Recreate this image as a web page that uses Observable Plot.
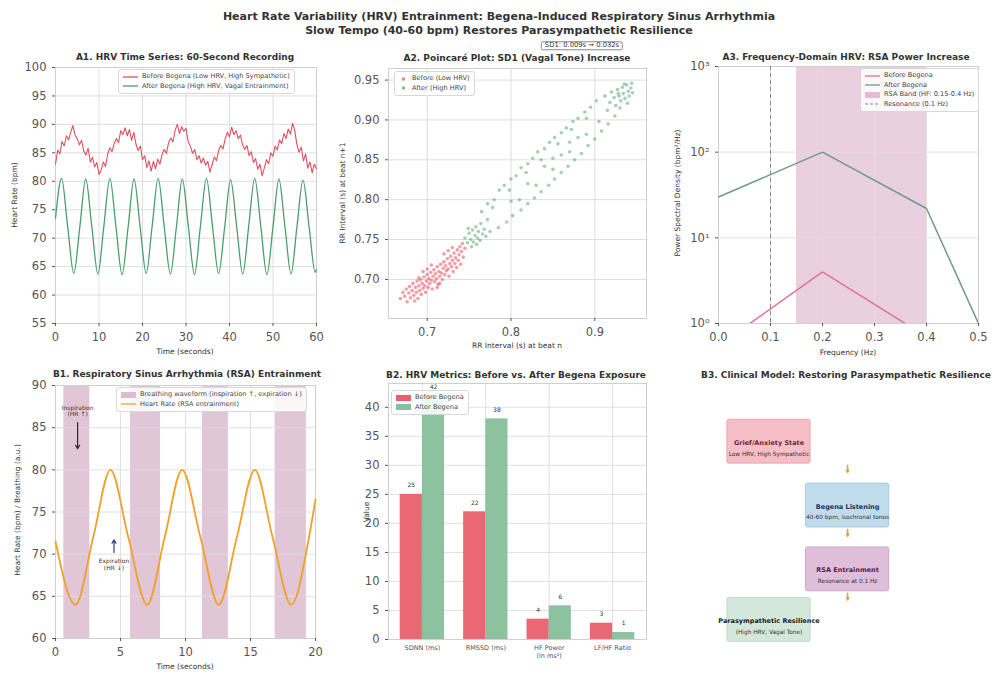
<!DOCTYPE html>
<html><head><meta charset="utf-8">
<script src="https://cdn.jsdelivr.net/npm/d3@7"></script>
<script src="https://cdn.jsdelivr.net/npm/@observablehq/plot@0.6"></script>
<style>
body{margin:0;background:#fff;font-family:"DejaVu Sans",sans-serif;}
#root{position:relative;width:998px;height:678px;overflow:hidden;background:#fff;}
.lg{position:absolute;background:rgba(255,255,255,0.85);border:1px solid #d8d8d8;border-radius:3px;padding:2px 4px;font-size:6.6px;color:#444;line-height:9.5px;white-space:nowrap;}
.lg div{display:flex;align-items:center;}
.lg svg{margin-right:4px;}
</style></head>
<body><div id="root"></div>
<script>
// ---------------- DATA ----------------
// A1: HRV time series (60 s)
const a1Time = [0,0.5,1,1.5,2,2.5,3,3.5,4,4.5,5,5.5,6,6.5,7,7.5,8,8.5,9,9.5,10,10.5,11,11.5,12,12.5,13,13.5,14,14.5,15,15.5,16,16.5,17,17.5,18,18.5,19,19.5,20,20.5,21,21.5,22,22.5,23,23.5,24,24.5,25,25.5,26,26.5,27,27.5,28,28.5,29,29.5,30,30.5,31,31.5,32,32.5,33,33.5,34,34.5,35,35.5,36,36.5,37,37.5,38,38.5,39,39.5,40,40.5,41,41.5,42,42.5,43,43.5,44,44.5,45,45.5,46,46.5,47,47.5,48,48.5,49,49.5,50,50.5,51,51.5,52,52.5,53,53.5,54,54.5,55,55.5,56,56.5,57,57.5,58,58.5,59,59.5,60];
const a1Before = [83.0,85.5,84.8,87.0,86.2,88.0,87.3,88.6,89.8,88.1,87.5,86.4,87.2,85.3,84.6,85.8,83.4,84.2,82.5,83.3,81.2,82.0,83.4,82.6,84.8,85.9,85.2,86.7,87.5,86.8,88.9,88.2,89.4,88.0,89.1,87.2,88.6,86.5,85.4,86.2,83.8,84.5,82.4,83.6,81.8,83.5,82.2,83.9,83.0,84.7,85.6,84.9,86.8,87.6,86.9,89.0,90.0,88.4,89.6,88.8,89.3,87.0,86.2,84.9,85.6,83.8,84.5,83.2,84.1,82.8,83.5,81.6,82.9,84.3,83.6,85.4,86.3,85.7,87.4,88.6,87.8,89.5,88.2,88.9,87.5,88.1,86.4,85.6,86.3,84.5,85.2,83.3,84.0,82.1,83.0,81.0,82.3,83.8,83.1,85.0,84.4,86.2,85.5,87.3,86.6,88.4,87.5,89.2,88.3,90.2,88.9,86.4,85.1,86.0,83.6,84.8,82.3,83.4,81.5,83.0,82.2];
const a1AfterTime = [0,1.4,2.8,4.2,5.6,6.95,8.35,9.75,11.1,12.5,13.9,15.3,16.7,18.05,19.45,20.85,22.2,23.6,25,26.4,27.8,29.15,30.55,31.95,33.3,34.7,36.1,37.5,38.9,40.25,41.65,43.05,44.4,45.8,47.2,48.6,50,51.35,52.75,54.15,55.5,56.9,58.3,59.7,60];
const a1After = [73.5,80.5,72,63.8,72,80.4,72,63.7,72,80.5,72,63.6,72,80.4,72,63.8,72,80.5,72,63.7,72,80.4,72,63.6,72,80.5,72,63.8,72,80.3,72,63.7,72,80.5,72,63.6,72,80.4,72,63.7,72,80.2,72,64.0,64.5];
const a1XTicks = [0,10,20,30,40,50,60];
const a1YTicks = [55,60,65,70,75,80,85,90,95,100];

// A2: Poincaré plot
const a2BeforeX = [0.668,0.671,0.673,0.675,0.676,0.678,0.679,0.680,0.682,0.683,0.684,0.686,0.687,0.688,0.689,0.690,0.691,0.692,0.693,0.694,0.695,0.696,0.697,0.698,0.699,0.700,0.701,0.702,0.703,0.704,0.705,0.706,0.707,0.708,0.709,0.710,0.711,0.712,0.713,0.714,0.715,0.716,0.717,0.718,0.719,0.720,0.721,0.722,0.723,0.724,0.725,0.726,0.727,0.728,0.729,0.730,0.731,0.732,0.733,0.734,0.735,0.736,0.737,0.738,0.739,0.740,0.741,0.742,0.743,0.745,0.712,0.700,0.690,0.720,0.685,0.730,0.695,0.705,0.725,0.715];
const a2BeforeY = [0.676,0.684,0.679,0.688,0.672,0.683,0.691,0.677,0.686,0.695,0.680,0.690,0.684,0.698,0.676,0.692,0.686,0.700,0.681,0.695,0.689,0.703,0.692,0.684,0.698,0.706,0.690,0.701,0.695,0.709,0.699,0.688,0.704,0.712,0.697,0.707,0.701,0.716,0.694,0.710,0.704,0.719,0.708,0.700,0.714,0.722,0.706,0.717,0.711,0.726,0.713,0.704,0.720,0.729,0.716,0.724,0.710,0.733,0.720,0.727,0.715,0.737,0.724,0.731,0.741,0.719,0.735,0.745,0.728,0.739,0.690,0.713,0.702,0.732,0.673,0.740,0.710,0.718,0.736,0.695];
const a2AfterX = [0.745,0.748,0.750,0.752,0.754,0.755,0.757,0.758,0.760,0.761,0.763,0.764,0.766,0.768,0.770,0.749,0.753,0.759,0.772,0.775,
 0.765,0.772,0.780,0.786,0.792,0.800,0.806,0.812,0.820,0.826,0.832,0.840,0.846,0.852,0.860,0.866,0.874,0.880,0.888,0.895,0.902,0.778,0.798,0.818,0.836,0.856,0.872,0.890,
 0.785,0.795,0.802,0.812,0.820,0.828,0.836,0.845,0.852,0.860,0.868,0.876,0.884,0.892,0.900,0.908,0.916,0.924,0.810,0.830,0.850,0.870,0.890,0.905,
 0.820,0.840,0.860,0.880,0.800,0.870,0.850,
 0.912,0.918,0.920,0.923,0.925,0.927,0.929,0.931,0.933,0.934,0.936,0.938,0.940,0.941,0.943,0.945,0.930,0.915,0.935,0.928,0.939,0.944];
const a2AfterY = [0.752,0.746,0.758,0.750,0.762,0.747,0.755,0.766,0.752,0.760,0.749,0.770,0.757,0.763,0.754,0.764,0.741,0.744,0.775,0.760,
 0.785,0.795,0.800,0.812,0.818,0.826,0.830,0.840,0.845,0.852,0.860,0.864,0.872,0.878,0.884,0.890,0.898,0.902,0.910,0.916,0.924,0.790,0.812,0.834,0.850,0.870,0.888,0.902,
 0.765,0.772,0.780,0.787,0.795,0.802,0.810,0.818,0.826,0.834,0.842,0.850,0.858,0.868,0.876,0.886,0.895,0.905,0.800,0.818,0.838,0.860,0.882,0.898,
 0.820,0.842,0.856,0.878,0.798,0.872,0.852,
 0.930,0.922,0.935,0.928,0.918,0.938,0.930,0.924,0.941,0.933,0.927,0.944,0.936,0.930,0.940,0.934,0.915,0.912,0.945,0.933,0.921,0.946];
const a2XTicks = [0.7,0.8,0.9];
const a2YTicks = [0.70,0.75,0.80,0.85,0.90,0.95];

// A3: power spectral density
const a3Freq = [0.0,0.2,0.4,0.5];
const a3Before = [0.55,4,0.7,0.04];
const a3After = [30,100,22,1];
const a3Band = [0.15,0.4];
const a3Resonance = [0.1];
const a3XTicks = [0,0.1,0.2,0.3,0.4,0.5];
const a3YTicks = [1,10,100,1000];

// B1: RSA entrainment
const b1Time = [0,1.54,2.9,4.23,5.6,7.05,8.4,9.74,11.15,12.56,13.95,15.33,16.7,18.13,19.5,20];
const b1HR = [71.5,64,72,80,72,64,72,80,72,64,72,80,72,64,72,76.5];
const b1BreathStart = [0.64,5.77,11.3,16.9];
const b1BreathEnd = [2.64,8.08,13.3,19.3];
const b1NoteText = ["Inspiration\n(HR ↑)","Expiration\n(HR ↓)"];
const b1NoteX = [1.7,4.5];
const b1NoteY = [87.0,68.8];
const b1ArrowFrom = [85.6,70.2];
const b1ArrowTo = [82.5,71.7];
const b1ArrowColor = ["#3b2233","#1f3f8f"];
const b1XTicks = [0,5,10,15,20];
const b1YTicks = [60,65,70,75,80,85,90];

// B2: HRV metrics
const b2Metrics = ["SDNN (ms)","RMSSD (ms)","HF Power\n(ln ms²)","LF/HF Ratio"];
const b2Before = [25,22,3.5,2.8];
const b2After = [42,38,5.8,1.2];
const b2YTicks = [0,5,10,15,20,25,30,35,40];

// B3: clinical model
const b3Titles = ["Grief/Anxiety State","Begena Listening","RSA Entrainment","Parasympathetic Resilience"];
const b3Subtitles = ["Low HRV, High Sympathetic","40-60 bpm, isochronal tones","Resonance at 0.1 Hz","(High HRV, Vagal Tone)"];
const b3X = [2.5,5.5,5.5,2.5];
const b3Y = [8,5.6,3.2,1.3];
const b3Fill = ["#f4b3bd","#b5d6e8","#d9b3d3","#cbe4d3"];
const b3Stroke = ["#e89aa6","#9cc4da","#c89ac0","#b6d6c0"];
const b3Ink = ["#7a1f2e","#17365a","#58204c","#222222"];

// ---------------- RENDER ----------------
const root = document.getElementById("root");
const FONT = "'DejaVu Sans', sans-serif";
const RED = "#e0505c", GREEN = "#4a9e6e", GRID = "#dedede", FRAME = "#cfcfcf";
const base = {fontFamily: FONT, fontSize: "11.5px", color: "#555", background: "transparent", overflow: "visible"};

function place(el, left, top) {
  el.style.position = "absolute"; el.style.left = left + "px"; el.style.top = top + "px";
  root.appendChild(el);
}
function txt(s, x, y, o = {}) {
  const d = document.createElement("div");
  d.textContent = s;
  d.style.cssText = `position:absolute;left:${x}px;top:${y}px;transform:translate(-50%,-50%)${o.rot ? " rotate(-90deg)" : ""};` +
    `font-size:${o.size || 7.5}px;font-weight:${o.bold ? "bold" : "normal"};color:${o.color || "#333"};white-space:pre;text-align:center;line-height:1.2;` +
    (o.box ? "background:#fff;border:1px solid #888;border-radius:2px;padding:0 3px;line-height:1.1;" : "");
  root.appendChild(d);
}
function swatch(type, color) {
  if (type === "line") return `<svg width="15" height="6"><line x1="0" x2="15" y1="3" y2="3" stroke="${color}" stroke-width="1.3"/></svg>`;
  if (type === "dash") return `<svg width="15" height="6"><line x1="0" x2="15" y1="3" y2="3" stroke="${color}" stroke-width="1" stroke-dasharray="3,2"/></svg>`;
  if (type === "dot") return `<svg width="9" height="6"><circle cx="4.5" cy="3" r="1.8" fill="${color}" fill-opacity="0.7"/></svg>`;
  return `<svg width="15" height="6"><rect x="0" y="0" width="15" height="6" fill="${color}"/></svg>`;
}
function legend(x, y, items) {
  const d = document.createElement("div");
  d.className = "lg";
  d.style.left = x + "px"; d.style.top = y + "px";
  d.innerHTML = items.map(([t, type, c]) => `<div>${swatch(type, c)}<span>${t}</span></div>`).join("");
  root.appendChild(d);
}

// Main title
txt("Heart Rate Variability (HRV) Entrainment: Begena-Induced Respiratory Sinus Arrhythmia", 499, 17, {size: 11, bold: true});
txt("Slow Tempo (40-60 bpm) Restores Parasympathetic Resilience", 499, 31, {size: 11, bold: true});

// ---- A1 ----
place(Plot.plot({
  width: 330, height: 315, marginLeft: 55, marginRight: 14, marginTop: 22, marginBottom: 37,
  style: base,
  x: {domain: [0, 60]}, y: {domain: [55, 100]},
  marks: [
    Plot.gridX({ticks: a1XTicks, stroke: GRID, strokeOpacity: 1}),
    Plot.gridY({ticks: a1YTicks, stroke: GRID, strokeOpacity: 1}),
    Plot.frame({stroke: FRAME}),
    Plot.axisX({ticks: a1XTicks, tickSize: 3, label: null}),
    Plot.axisY({ticks: a1YTicks, tickSize: 3, label: null}),
    Plot.line(a1Before, {x: a1Time, y: a1Before, stroke: RED, strokeWidth: 1.1}),
    Plot.line(a1After, {x: a1AfterTime, y: a1After, curve: "monotone-x", stroke: GREEN, strokeWidth: 1.3})
  ]
}), 0, 45);
txt("A1. HRV Time Series: 60-Second Recording", 185, 57, {size: 9, bold: true});
txt("Time (seconds)", 185, 351);
txt("Heart Rate (bpm)", 14, 195, {rot: true});
legend(118, 69, [["Before Begena (Low HRV, High Sympathetic)", "line", RED], ["After Begena (High HRV, Vagal Entrainment)", "line", GREEN]]);

// ---- A2 ----
place(Plot.plot({
  width: 340, height: 315, marginLeft: 58, marginRight: 24, marginTop: 23, marginBottom: 42,
  style: base,
  x: {domain: [0.6538, 0.9617]}, y: {domain: [0.651, 0.9645]},
  marks: [
    Plot.gridX({ticks: a2XTicks, stroke: GRID, strokeOpacity: 1}),
    Plot.gridY({ticks: a2YTicks, stroke: GRID, strokeOpacity: 1}),
    Plot.frame({stroke: FRAME}),
    Plot.axisX({ticks: a2XTicks, tickFormat: ".1f", tickSize: 3, label: null}),
    Plot.axisY({ticks: a2YTicks, tickFormat: ".2f", tickSize: 3, label: null}),
    Plot.dot(a2BeforeX, {x: a2BeforeX, y: a2BeforeY, r: 1.8, fill: "#e8505b", fillOpacity: 0.55}),
    Plot.dot(a2AfterX, {x: a2AfterX, y: a2AfterY, r: 1.8, fill: "#4fa06f", fillOpacity: 0.5})
  ]
}), 330, 45);
txt("A2. Poincaré Plot: SD1 (Vagal Tone) Increase", 517, 58, {size: 9, bold: true});
txt("SD1: 0.009s → 0.032s", 582, 46, {size: 6.8, box: true});
txt("RR Interval (s) at beat n", 517, 345);
txt("RR Interval (s) at beat n+1", 342, 193, {rot: true});
legend(394, 71, [["Before (Low HRV)", "dot", "#e8505b"], ["After (High HRV)", "dot", "#4fa06f"]]);

// ---- A3 ----
const sup = {1: "10⁰", 10: "10¹", 100: "10²", 1000: "10³"};
place(Plot.plot({
  width: 328, height: 315, marginLeft: 48, marginRight: 20, marginTop: 21, marginBottom: 37,
  style: base,
  x: {domain: [0, 0.5]}, y: {type: "log", domain: [1, 1000]},
  marks: [
    Plot.rect(a3Band.slice(0, 1), {x1: a3Band[0], x2: a3Band[1], fill: "#d9a8c4", fillOpacity: 0.55}),
    Plot.gridX({ticks: a3XTicks, stroke: GRID, strokeOpacity: 0.9}),
    Plot.gridY({ticks: a3YTicks, stroke: GRID, strokeOpacity: 0.9}),
    Plot.frame({stroke: FRAME}),
    Plot.axisX({ticks: a3XTicks, tickFormat: ".1f", tickSize: 3, label: null}),
    Plot.axisY({ticks: a3YTicks, tickFormat: d => sup[d], tickSize: 3, label: null}),
    Plot.ruleX(a3Resonance, {x: d => d, stroke: "#888", strokeWidth: 1, strokeDasharray: "4,3"}),
    Plot.line(a3Freq, {x: a3Freq, y: a3After, stroke: "#6f9a8e", strokeWidth: 1.5, clip: true}),
    Plot.line(a3Freq, {x: a3Freq, y: a3Before, stroke: "#e07296", strokeWidth: 1.5, clip: true})
  ]
}), 670, 45);
txt("A3. Frequency-Domain HRV: RSA Power Increase", 846, 57, {size: 9, bold: true});
txt("Frequency (Hz)", 848, 352);
txt("Power Spectral Density (bpm²/Hz)", 677, 193, {rot: true});
legend(860, 68, [["Before Begena", "line", "#e07296"], ["After Begena", "line", "#6f9a8e"], ["RSA Band (HF: 0.15-0.4 Hz)", "rect", "#e2bcd2"], ["Resonance (0.1 Hz)", "dash", "#888"]]);

// ---- B1 ----
place(Plot.plot({
  width: 330, height: 318, marginLeft: 55, marginRight: 15, marginTop: 25, marginBottom: 40,
  style: base,
  x: {domain: [0, 20]}, y: {domain: [60, 90]},
  marks: [
    Plot.rect(b1BreathStart, {x1: b1BreathStart, x2: b1BreathEnd, fill: "#dcbcd0", fillOpacity: 0.85}),
    Plot.gridX({ticks: b1XTicks, stroke: GRID, strokeOpacity: 0.9}),
    Plot.gridY({ticks: b1YTicks, stroke: GRID, strokeOpacity: 0.9}),
    Plot.frame({stroke: FRAME}),
    Plot.axisX({ticks: b1XTicks, tickSize: 3, label: null}),
    Plot.axisY({ticks: b1YTicks, tickSize: 3, label: null}),
    Plot.line(b1HR, {x: b1Time, y: b1HR, curve: "monotone-x", stroke: "#f0a12a", strokeWidth: 1.8}),
    Plot.text(b1NoteText, {x: b1NoteX, y: b1NoteY, text: d => d, fontSize: 6, fill: "#333", lineHeight: 1.1}),
    Plot.arrow(b1NoteX, {x1: b1NoteX, x2: b1NoteX, y1: b1ArrowFrom, y2: b1ArrowTo, stroke: b1ArrowColor[0], strokeWidth: 1.2, headLength: 5, filter: (d, i) => i === 0}),
    Plot.arrow(b1NoteX, {x1: b1NoteX, x2: b1NoteX, y1: b1ArrowFrom, y2: b1ArrowTo, stroke: b1ArrowColor[1], strokeWidth: 1.2, headLength: 5, filter: (d, i) => i === 1})
  ]
}), 0, 360);
txt("B1. Respiratory Sinus Arrhythmia (RSA) Entrainment", 187, 374, {size: 9, bold: true});
txt("Time (seconds)", 185, 666);
txt("Heart Rate (bpm) / Breathing (a.u.)", 17, 510, {rot: true});
legend(116, 387, [["Breathing waveform (inspiration ↑, expiration ↓)", "rect", "#dcbcd0"], ["Heart Rate (RSA entrainment)", "line", "#f0a12a"]]);

// ---- B2 ----
const b2Idx = b2Metrics.map((d, i) => i);
place(Plot.plot({
  width: 340, height: 318, marginLeft: 58, marginRight: 24, marginTop: 23, marginBottom: 39,
  style: base,
  x: {domain: [-0.535, 3.535]}, y: {domain: [0, 44.1]},
  marks: [
    Plot.gridX({ticks: b2Idx, stroke: GRID, strokeOpacity: 0.9}),
    Plot.gridY({ticks: b2YTicks, stroke: GRID, strokeOpacity: 0.9}),
    Plot.frame({stroke: FRAME}),
    Plot.axisX({ticks: b2Idx, tickFormat: i => b2Metrics[i], tickSize: 0, tickPadding: 5, fontSize: 6.5, label: null, lineHeight: 1.25}),
    Plot.axisY({ticks: b2YTicks, tickSize: 3, label: null}),
    Plot.rectY(b2Idx, {x1: i => i - 0.35, x2: i => i, y: i => b2Before[i], fill: "#e8606b", fillOpacity: 0.95}),
    Plot.rectY(b2Idx, {x1: i => i, x2: i => i + 0.35, y: i => b2After[i], fill: "#86bf9b", fillOpacity: 0.95}),
    Plot.text(b2Idx, {x: i => i - 0.175, y: i => b2Before[i], text: i => d3.format(".0f")(b2Before[i]), dy: -9, fontSize: 6, fill: "#333"}),
    Plot.text(b2Idx, {x: i => i + 0.175, y: i => b2After[i], text: i => d3.format(".0f")(b2After[i]), dy: -9, fontSize: 6, fill: "#333"})
  ]
}), 330, 360);
txt("B2. HRV Metrics: Before vs. After Begena Exposure", 516, 375, {size: 9, bold: true});
txt("Value", 366, 512, {rot: true});
legend(391, 390, [["Before Begena", "rect", "#e8606b"], ["After Begena", "rect", "#86bf9b"]]);

// ---- B3 ----
const b3Idx = b3Titles.map((d, i) => i);
place(Plot.plot({
  width: 328, height: 318, marginLeft: 33, marginRight: 33, marginTop: 28, marginBottom: 24,
  style: base,
  x: {domain: [0, 10], axis: null}, y: {domain: [0, 10], axis: null},
  color: {type: "identity"},
  marks: [
    Plot.rect(b3Idx, {x1: i => b3X[i] - 1.59, x2: i => b3X[i] + 1.59, y1: i => b3Y[i] - 0.825, y2: i => b3Y[i] + 0.825,
      fill: i => b3Fill[i], stroke: i => b3Stroke[i], fillOpacity: 0.85, strokeWidth: 0.8, rx: 2}),
    Plot.text(b3Idx, {x: i => b3X[i], y: i => b3Y[i], text: i => b3Titles[i], fill: i => b3Ink[i], fontWeight: "bold", fontSize: 6.5, dy: 1}),
    Plot.text(b3Idx, {x: i => b3X[i], y: i => b3Y[i], text: i => b3Subtitles[i], fill: "#333", fontSize: 5.8, dy: 12}),
    Plot.arrow(b3Idx.slice(0, 3), {x1: i => b3X[1], x2: i => b3X[1], y1: i => b3Y[i] - 0.9, y2: i => b3Y[i] - 1.15,
      stroke: "#e9a03c", strokeWidth: 1.6, headLength: 4})
  ]
}), 670, 360);
txt("B3. Clinical Model: Restoring Parasympathetic Resilience", 846, 375, {size: 9, bold: true});
</script>
</body></html>
